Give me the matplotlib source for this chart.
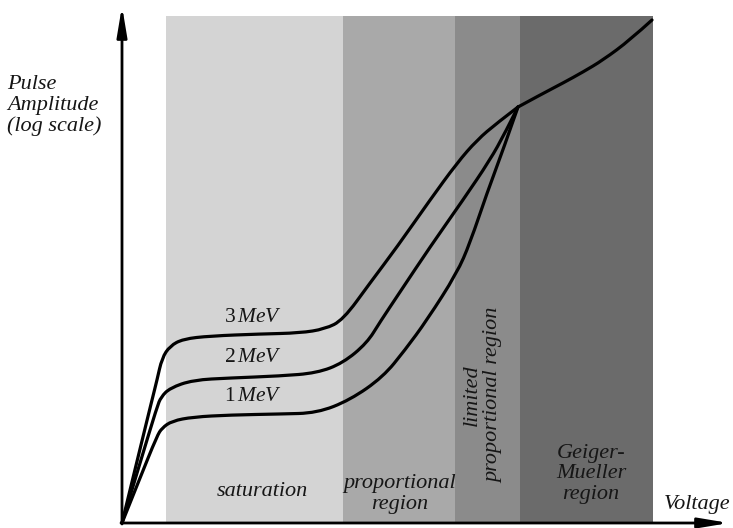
import matplotlib
matplotlib.use("Agg")
import matplotlib.pyplot as plt
from matplotlib.patches import Rectangle, PathPatch
from matplotlib.path import Path

# voltage / amplitude in arbitrary units (origin at the axes corner)
REGION_EDGES = [44, 221, 333, 398, 531]
REGION_TOP = 507
REGION_COLORS = ['#d4d4d4', '#a9a9a9', '#8b8b8b', '#6b6b6b']

V_3MEV = [0, 18, 30, 35, 40, 48, 61, 88, 138, 178, 203, 221, 248, 275, 308, 335, 355, 375, 396]
A_3MEV = [0, 74, 123, 143, 165, 177, 184, 187, 189, 190, 194, 203, 240, 276, 323, 360, 383, 400, 416]
V_2MEV = [0, 18, 35, 39, 48, 71, 108, 158, 195, 221, 245, 258, 278, 308, 341, 368, 383, 396]
A_2MEV = [0, 60, 116, 126, 135, 143, 145, 147, 150, 160, 180, 201, 231, 276, 323, 363, 390, 416]
V_1MEV = [0, 18, 35, 40, 50, 71, 108, 158, 195, 228, 261, 283, 305, 335, 348, 365, 381, 396]
A_1MEV = [0, 45, 87, 95, 102, 106, 108, 109, 110, 123, 146, 173, 203, 250, 280, 330, 373, 416]
V_GM = [396, 418, 441, 461, 481, 508, 530]
A_GM = [416, 428, 440, 451, 463, 483, 503]

CURVE_LABELS = ['3', '2', '1']
TXT = '#161616'


def smooth_path(xs, ys):
    # quadratic bezier through the midpoints, read points act as control points
    pts = list(zip(xs, ys))
    verts = [pts[0]]
    codes = [Path.MOVETO]
    for i in range(1, len(pts) - 1):
        mid = ((pts[i][0] + pts[i + 1][0]) / 2, (pts[i][1] + pts[i + 1][1]) / 2)
        if i == len(pts) - 2:
            mid = pts[-1]
        verts += [pts[i], mid]
        codes += [Path.CURVE3, Path.CURVE3]
    return Path(verts, codes)


fig = plt.figure(figsize=(7.33, 5.28), dpi=100)
ax = fig.add_axes([0, 0, 1, 1])
ax.set_xlim(-122, 611)
ax.set_ylim(-5, 523)
ax.axis('off')

for x0, x1, c in zip(REGION_EDGES[:-1], REGION_EDGES[1:], REGION_COLORS):
    ax.add_patch(Rectangle((x0, 1), x1 - x0, REGION_TOP - 1, color=c, lw=0, zorder=1))

for v, a in [(V_3MEV, A_3MEV), (V_2MEV, A_2MEV), (V_1MEV, A_1MEV), (V_GM, A_GM)]:
    ax.add_patch(PathPatch(smooth_path(v, a), fc='none', ec='black', lw=2.3,
                           joinstyle='round', capstyle='round', zorder=3))

# axes with arrows
arrow = dict(arrowstyle='-|>,head_length=1.8,head_width=0.3', lw=2.0,
             color='black', mutation_scale=10, shrinkA=0, shrinkB=0)
ax.annotate('', xy=(0, 517), xytext=(0, -1), arrowprops=arrow, zorder=4)
ax.annotate('', xy=(607, 0), xytext=(-1, 0), arrowprops=arrow, zorder=4)

serif = ['Liberation Serif', 'DejaVu Serif']
plt.rcParams['mathtext.fontset'] = 'custom'
plt.rcParams['mathtext.rm'] = 'Liberation Serif'
plt.rcParams['mathtext.it'] = 'Liberation Serif:italic'

ax.text(-115, 448, 'Pulse\nAmplitude\n(log scale)', family=serif, style='italic',
        fontsize=16, va='top', ha='left', color=TXT, linespacing=1.12)

for lab, y in zip(CURVE_LABELS, [207, 167, 128]):
    ax.text(131, y, r'$\mathrm{%s}\,\mathit{MeV}$' % lab, fontsize=15.5,
            ha='center', va='center', color=TXT, zorder=4)

ax.text(140, 32, 'saturation', family=serif, style='italic', fontsize=16,
        ha='center', va='center', color=TXT)
ax.text(278, 29, 'proportional\nregion', family=serif, style='italic', fontsize=16,
        ha='center', va='center', color=TXT, linespacing=1.12)
ax.text(361, 128, 'limited\nproportional region', family=serif, style='italic',
        fontsize=16, ha='center', va='center', rotation=90, color=TXT, linespacing=1.2)
ax.text(469, 49, 'Geiger-\nMueller\nregion', family=serif, style='italic', fontsize=16,
        ha='center', va='center', color=TXT, linespacing=1.12)
ax.text(575, 18, 'Voltage', family=serif, style='italic', fontsize=16,
        ha='center', va='center', color=TXT)

fig.savefig('out.png', dpi=100)
